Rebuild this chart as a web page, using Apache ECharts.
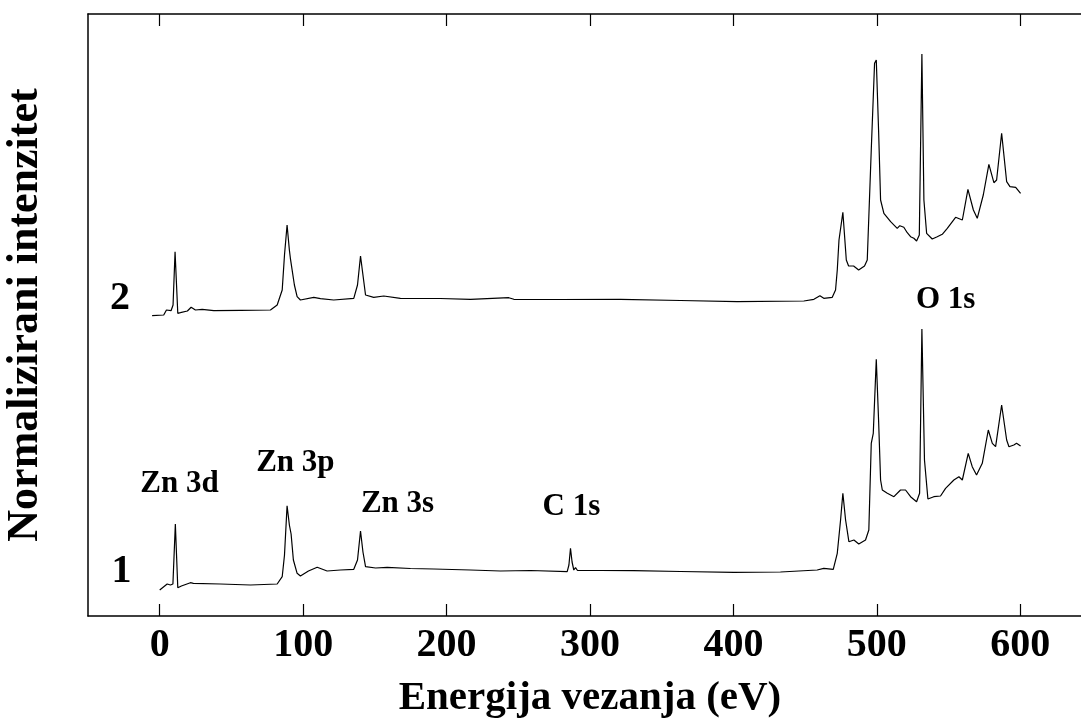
<!DOCTYPE html>
<html>
<head>
<meta charset="utf-8">
<script src="https://cdn.jsdelivr.net/npm/echarts@6/dist/echarts.min.js"></script>
<style>
  html, body { margin: 0; padding: 0; background: #fff; }
  #chart { width: 1081px; height: 718px; }
</style>
</head>
<body>
<div id="chart"></div>
<script>
// binding energy (eV) and normalized intensity (arbitrary units)
var energy1 = [0, 5.2, 7.5, 9.2, 10.9, 12.6, 15.1, 21.4, 23.5, 42.3, 63.3, 81.9, 85.4, 87, 88.8, 90.4, 91.6, 93.2, 95.8, 98.1,
    103.7, 109.8, 116.7, 126, 135.3, 137.9, 140, 141.7, 143.5, 150.5, 158.6, 174.8, 191.1, 216.7, 237.6, 258.5, 284.1, 285.3,
    286.4, 287.5, 288.7, 289.9, 291.3, 307.3, 330.5, 363.1, 400.3, 432.8, 458.4, 463, 469.6, 472.4, 474.7, 476.3, 478.2, 480.5,
    484, 487.4, 492.1, 494.4, 496.1, 497.5, 499.6, 501.2, 502.6, 503.8, 507.3, 511.9, 516.5, 520, 523.5, 527.7, 529.8, 531.4,
    533.2, 535.6, 539.7, 544.4, 547.9, 553.7, 557.2, 559.6, 563.7, 566.5, 569.5, 573.5, 577.7, 580.5, 582.8, 587, 590.5, 592.1,
    595.5, 597.4, 600.2];
var intensity1 = [26, 32, 31, 32, 92, 28.3, 30, 33.3, 32.7, 32, 31, 32, 39.3, 61, 110.3, 91, 82, 56, 42.7, 40,
    45, 48.7, 45, 46, 46.7, 56, 85, 64, 49.3, 48, 48.7, 47.5, 47, 46, 45, 45.5, 44.3, 51,
    67.7, 54, 46, 48.3, 45.5, 45.5, 45.3, 44.5, 43.7, 44, 46, 47.7, 46.7, 62.7, 96, 122.7, 96, 74.3,
    76, 72, 76, 86, 172.7, 182.7, 256.7, 196, 136, 126, 122.7, 119.3, 126, 126, 119.3, 114.3, 122.7, 287,
    156, 117, 119.3, 120, 127.7, 136, 139.3, 136, 162.7, 149.3, 141, 152.7, 186, 172.7, 169.3, 211, 176, 169.3,
    171, 172.7, 170];

var energy2 = [-5.3, 2.8, 4.7, 7.9, 9.3, 10.7, 12.6, 14.4, 19.3, 21.9, 24.9, 29.6, 37.7, 56.3, 77.2, 81.9, 85.4, 87, 88.8,
    90.4, 91.1, 92.3, 93.9, 95.8, 98.1, 107.4, 112.1, 121.3, 135.3, 137.9, 140, 141.7, 143.5, 149.2, 156.2, 167.8, 195.7,
    216.7, 243.4, 246.9, 279.4, 321.3, 363.1, 402.6, 449.1, 456.1, 460.3, 463, 468.9, 471.2, 472.4, 473.6, 476.3, 477,
    478.7, 480.3, 483.8, 487.3, 491.4, 493.3, 496.1, 498.4, 499.6, 501.2, 502.6, 504.9, 509.6, 514.2, 516, 518.8, 521.2,
    523.5, 525.8, 527.7, 529.6, 531.4, 532.8, 534.7, 538.6, 542.1, 545.6, 549.1, 554.9, 559.6, 563.5, 567.3, 570, 574.2,
    578.1, 581.6, 583.5, 587, 590.5, 592.8, 596.8, 600.2];
var intensity2 = [300.3, 301, 306, 305.3, 311, 364.3, 302.7, 303.3, 305, 308.7, 306, 306.7, 305.3, 305.7, 306, 311, 326, 361, 391,
    366, 357.7, 356, 331, 319.3, 316, 318.7, 317.3, 316, 317.7, 331, 360, 341, 321, 318.7, 320, 317.7, 317.5,
    316.7, 318.3, 316.7, 316.5, 316.7, 315.5, 314.3, 315, 316.7, 320.3, 317.7, 318.7, 326, 346, 376, 403.7, 402.7,
    356, 350, 350, 346, 350, 356, 466, 552.7, 556, 486, 416, 402.7, 394.3, 387.7, 390.3, 388.7, 383.3,
    379.3, 377.7, 375, 381, 562, 416, 382.7, 377, 379.3, 381.7, 387.7, 398.7, 396, 426.7, 406, 397.7, 421,
    451.7, 433.3, 436, 482.7, 434.3, 429.3, 428.7, 422.7];

var xTicks = [0, 100, 200, 300, 400, 500, 600];

// peak annotations and curve numbers
var noteText = ['Zn 3d', 'Zn 3p', 'Zn 3s', 'C 1s', 'O 1s'];
var noteX = [13.8, 94.6, 165.8, 287, 548];
var noteY = [132, 153, 112, 109, 316];
var curveText = ['1', '2'];
var curveX = [-26.6, -27.7];
var curveY = [44, 317];

function pairs(xs, ys) {
    var out = [];
    for (var i = 0; i < xs.length; i++) out.push([xs[i], ys[i]]);
    return out;
}

var font = 'Liberation Serif';
var chart = echarts.init(document.getElementById('chart'));

chart.setOption({
    animation: false,
    backgroundColor: '#fff',
    grid: { left: 88, right: -11, top: 14, bottom: 102, containLabel: false, outerBoundsMode: 'none' },
    xAxis: [{
        type: 'value', position: 'bottom', min: -50, max: 650,
        name: 'Energija vezanja (eV)', nameLocation: 'middle', nameGap: 62,
        nameTextStyle: { fontFamily: font, fontWeight: 'bold', fontSize: 41, color: '#000' },
        axisLine: { show: true, onZero: false, lineStyle: { color: '#000', width: 1.5 } },
        axisTick: { show: true, inside: true, length: 12, customValues: xTicks, lineStyle: { color: '#000', width: 1.2 } },
        axisLabel: { customValues: xTicks, margin: 10, fontFamily: font, fontWeight: 'bold', fontSize: 40, color: '#000' },
        splitLine: { show: false }
    }, {
        type: 'value', position: 'top', min: -50, max: 650,
        axisLine: { show: true, onZero: false, lineStyle: { color: '#000', width: 1.5 } },
        axisTick: { show: true, inside: true, length: 12, customValues: xTicks, lineStyle: { color: '#000', width: 1.2 } },
        axisLabel: { show: false },
        splitLine: { show: false }
    }],
    yAxis: {
        type: 'value', min: 0, max: 602,
        name: 'Normalizirani intenzitet', nameLocation: 'middle', nameGap: 40,
        nameTextStyle: { fontFamily: font, fontWeight: 'bold', fontSize: 44, color: '#000' },
        axisLine: { show: true, onZero: false, lineStyle: { color: '#000', width: 1.5 } },
        axisTick: { show: false },
        axisLabel: { show: false },
        splitLine: { show: false }
    },
    series: [{
        type: 'line', data: pairs(energy1, intensity1), showSymbol: false, symbol: 'none',
        lineStyle: { color: '#000', width: 1.2 }
    }, {
        type: 'line', data: pairs(energy2, intensity2), showSymbol: false, symbol: 'none',
        lineStyle: { color: '#000', width: 1.2 }
    }, {
        type: 'scatter', symbolSize: 0, itemStyle: { opacity: 1 },
        data: pairs(noteX, noteY).map(function (p, i) {
            return { value: p, name: noteText[i] };
        }),
        label: { show: true, position: 'inside', formatter: '{b}', fontFamily: font, fontWeight: 'bold', fontSize: 31, color: '#000', opacity: 1 }
    }, {
        type: 'scatter', symbolSize: 0, itemStyle: { opacity: 1 },
        data: pairs(curveX, curveY).map(function (p, i) {
            return { value: p, name: curveText[i] };
        }),
        label: { show: true, position: 'inside', formatter: '{b}', fontFamily: font, fontWeight: 'bold', fontSize: 40, color: '#000', opacity: 1 }
    }]
});
</script>
</body>
</html>
